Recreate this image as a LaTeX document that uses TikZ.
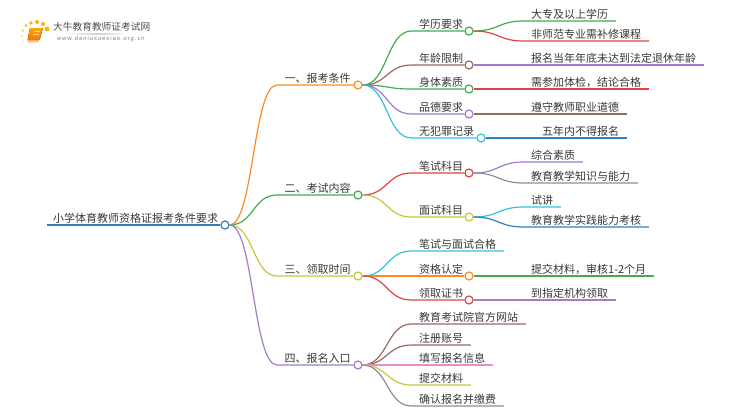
\documentclass[tikz,border=0pt]{standalone}
\usepackage{fontspec}
\setmainfont{Noto Sans CJK SC}
\newfontfamily\urlfont[LetterSpace=17]{Liberation Sans}
\usetikzlibrary{positioning}
\definecolor{mapblue}{HTML}{2F80C0}
\definecolor{maporange}{HTML}{FF8A24}
\definecolor{mapgreen}{HTML}{44AC4C}
\definecolor{mapred}{HTML}{DF4445}
\definecolor{mappurple}{HTML}{A27BCE}
\definecolor{mapbrown}{HTML}{976A60}
\definecolor{mappink}{HTML}{EA8CD2}
\definecolor{mapgray}{HTML}{8F8F8F}
\definecolor{mapolive}{HTML}{C7C73A}
\definecolor{mapcyan}{HTML}{2EC5D8}
\tikzset{
  txt/.style={anchor=south west, inner xsep=7.5pt, inner ysep=0.5pt, text height=9.5pt, text depth=1.5pt, font=\fontsize{11pt}{11pt}\selectfont, text=black!78},
  dot/.style={circle, draw=#1, fill=white, line width=1.2pt, minimum size=8pt, inner sep=0pt},
  branch/.style={line width=1.2pt, #1},
  sun/.style={fill=orange!60!yellow, draw=none}
}
\begin{document}
\begin{tikzpicture}[x=1pt, y=-1pt]
\useasboundingbox (0,0) rectangle (750,410);

% logo
\fill[sun] (47,29) circle (2.4);
\fill[sun] (43,24) circle (2);
\fill[sun] (37,22) circle (2);
\fill[sun] (31,23) circle (1.9);
\fill[sun, opacity=0.8] (26,25.5) circle (1.6);
\fill[sun, opacity=0.6] (23,30.5) circle (1.3);
\fill[sun, opacity=0.5] (22,36) circle (1.1);
\fill[sun, opacity=0.4] (23.5,42) circle (0.9);
\fill[orange!40!white, rounded corners=1pt] (30,28) -- (43,28) -- (38.5,42.5) -- (27,42.5) -- cycle;
\fill[top color=orange!70!yellow, bottom color=orange!90!red, rounded corners=1pt] (30,28) -- (43,28) -- (39.5,40) -- (27.5,40) -- cycle;
\draw[orange!30!white, line width=0.6pt] (33.5,31.5) -- (40,31.5);
\draw[orange!30!white, line width=0.6pt] (33,34) -- (39,34);
\node[inner sep=0pt, anchor=west, text=black!70, font=\fontsize{9.7pt}{10pt}\selectfont] (logotitle) at (53,27) {大牛教育教师证考试网};
\node[inner sep=0pt, anchor=west, text=black!50, font=\urlfont\fontsize{5.8pt}{6pt}\selectfont] (logourl) at (57,39) {www.daniuxuexiao.org.cn};
\fill[left color=white, right color=white, middle color=black!18] (66,33) rectangle (128,34);

% root
\node[txt, inner xsep=6pt] (root) at (47,225) {小学体育教师资格证报考条件要求};
\node[dot=mapblue] (rootdot) at (225,225) {};
\draw[branch=mapblue, line width=1.8pt] (root.south west) -- (rootdot.west);

% first level
\node[txt] (tiaojian) at (277,85) {一、报考条件};
\node[dot=maporange] (tiaojiandot) at (358,85) {};
\node[txt] (neirong) at (277,195) {二、考试内容};
\node[dot=mapgreen] (neirongdot) at (358,195) {};
\node[txt] (shijian) at (277,276) {三、领取时间};
\node[dot=mapolive] (shijiandot) at (358,276) {};
\node[txt] (rukou) at (277,365) {四、报名入口};
\node[dot=mappurple] (rukoudot) at (358,365) {};
\draw[branch=maporange] (rootdot.east) .. controls +(24,0) and +(-24,0) .. (tiaojian.south west) -- (tiaojiandot.west);
\draw[branch=mapgreen] (rootdot.east) .. controls +(24,0) and +(-24,0) .. (neirong.south west) -- (neirongdot.west);
\draw[branch=mapolive] (rootdot.east) .. controls +(24,0) and +(-24,0) .. (shijian.south west) -- (shijiandot.west);
\draw[branch=mappurple] (rootdot.east) .. controls +(24,0) and +(-24,0) .. (rukou.south west) -- (rukoudot.west);

% second level
\node[txt] (xueli) at (411.5,31) {学历要求};
\node[dot=mapgreen] (xuelidot) at (469,31) {};
\node[txt] (nianling) at (411.5,65) {年龄限制};
\node[dot=mapbrown] (nianlingdot) at (469,65) {};
\node[txt] (shenti) at (411.5,89) {身体素质};
\node[dot=mapgreen] (shentidot) at (469,89) {};
\node[txt] (pinde) at (411.5,114) {品德要求};
\node[dot=mappurple] (pindedot) at (469,114) {};
\node[txt] (fanzui) at (411.5,138) {无犯罪记录};
\node[dot=mapcyan] (fanzuidot) at (481,138) {};
\draw[branch=mapgreen] (tiaojiandot.east) .. controls +(25,0) and +(-25,0) .. (xueli.south west) -- (xuelidot.west);
\draw[branch=mapbrown] (tiaojiandot.east) .. controls +(25,0) and +(-25,0) .. (nianling.south west) -- (nianlingdot.west);
\draw[branch=mapgreen] (tiaojiandot.east) .. controls +(25,0) and +(-25,0) .. (shenti.south west) -- (shentidot.west);
\draw[branch=mappurple] (tiaojiandot.east) .. controls +(25,0) and +(-25,0) .. (pinde.south west) -- (pindedot.west);
\draw[branch=mapcyan] (tiaojiandot.east) .. controls +(25,0) and +(-25,0) .. (fanzui.south west) -- (fanzuidot.west);

\node[txt] (bishi) at (411.5,173) {笔试科目};
\node[dot=mapred] (bishidot) at (469,173) {};
\node[txt] (mianshi) at (411.5,217) {面试科目};
\node[dot=mapolive] (mianshidot) at (469,217) {};
\draw[branch=mapred] (neirongdot.east) .. controls +(25,0) and +(-25,0) .. (bishi.south west) -- (bishidot.west);
\draw[branch=mapolive] (neirongdot.east) .. controls +(25,0) and +(-25,0) .. (mianshi.south west) -- (mianshidot.west);

\node[txt] (hege) at (411.5,251) {笔试与面试合格};
\node[txt] (rending) at (411.5,276) {资格认定};
\node[dot=maporange] (rendingdot) at (469,276) {};
\node[txt] (lingqu) at (411.5,300) {领取证书};
\node[dot=mapred] (lingqudot) at (469,300) {};
\draw[branch=mapcyan] (shijiandot.east) .. controls +(25,0) and +(-25,0) .. (hege.south west) -- (hege.south east);
\draw[branch=maporange] (shijiandot.east) .. controls +(25,0) and +(-25,0) .. (rending.south west) -- (rendingdot.west);
\draw[branch=mapred] (shijiandot.east) .. controls +(25,0) and +(-25,0) .. (lingqu.south west) -- (lingqudot.west);

\node[txt] (wangzhan) at (411.5,324) {教育考试院官方网站};
\node[txt] (zhuce) at (411.5,345) {注册账号};
\node[txt] (tianxie) at (411.5,365) {填写报名信息};
\node[txt] (tijiao) at (411.5,385) {提交材料};
\node[txt] (jiaofei) at (411.5,406) {确认报名并缴费};
\draw[branch=mapbrown] (rukoudot.east) .. controls +(25,0) and +(-25,0) .. (wangzhan.south west) -- (wangzhan.south east);
\draw[branch=mapbrown] (rukoudot.east) .. controls +(25,0) and +(-25,0) .. (zhuce.south west) -- (zhuce.south east);
\draw[branch=mappink] (rukoudot.east) -- (tianxie.south west) -- (tianxie.south east);
\draw[branch=mapolive] (rukoudot.east) .. controls +(25,0) and +(-25,0) .. (tijiao.south west) -- (tijiao.south east);
\draw[branch=mapgray] (rukoudot.east) .. controls +(25,0) and +(-25,0) .. (jiaofei.south west) -- (jiaofei.south east);

% third level
\node[txt] (dazhuan) at (523.5,21) {大专及以上学历};
\node[txt] (buxiu) at (523.5,41) {非师范专业需补修课程};
\node[txt] (tuixiu) at (523.5,65) {报名当年年底未达到法定退休年龄};
\node[txt] (tijian) at (523.5,89) {需参加体检，结论合格};
\node[txt] (daode) at (523.5,114) {遵守教师职业道德};
\node[txt] (wunian) at (534.5,138) {五年内不得报名};
\draw[branch=mapgreen] (xuelidot.east) .. controls +(25,0) and +(-25,0) .. (dazhuan.south west) -- (dazhuan.south east);
\draw[branch=mapred] (xuelidot.east) .. controls +(25,0) and +(-25,0) .. (buxiu.south west) -- (buxiu.south east);
\draw[branch=mappurple] (nianlingdot.east) -- (tuixiu.south west) -- (tuixiu.south east);
\draw[branch=mapred] (shentidot.east) -- (tijian.south west) -- (tijian.south east);
\draw[branch=mapbrown] (pindedot.east) -- (daode.south west) -- (daode.south east);
\draw[branch=mapblue] (fanzuidot.east) -- (wunian.south west) -- (wunian.south east);

\node[txt] (zonghe) at (523.5,162) {综合素质};
\node[txt] (zhishi) at (523.5,183) {教育教学知识与能力};
\node[txt] (shijiang) at (523.5,207) {试讲};
\node[txt] (shijian2) at (523.5,227) {教育教学实践能力考核};
\draw[branch=mappurple] (bishidot.east) .. controls +(25,0) and +(-25,0) .. (zonghe.south west) -- (zonghe.south east);
\draw[branch=mapgray] (bishidot.east) .. controls +(25,0) and +(-25,0) .. (zhishi.south west) -- (zhishi.south east);
\draw[branch=mapcyan] (mianshidot.east) .. controls +(25,0) and +(-25,0) .. (shijiang.south west) -- (shijiang.south east);
\draw[branch=mapblue] (mianshidot.east) .. controls +(25,0) and +(-25,0) .. (shijian2.south west) -- (shijian2.south east);

\node[txt] (shenhe) at (523.5,276) {提交材料，审核1-2个月};
\node[txt] (jigou) at (523.5,300) {到指定机构领取};
\draw[branch=mapgreen] (rendingdot.east) -- (shenhe.south west) -- (shenhe.south east);
\draw[branch=mappurple] (lingqudot.east) -- (jigou.south west) -- (jigou.south east);
\end{tikzpicture}
\end{document}
